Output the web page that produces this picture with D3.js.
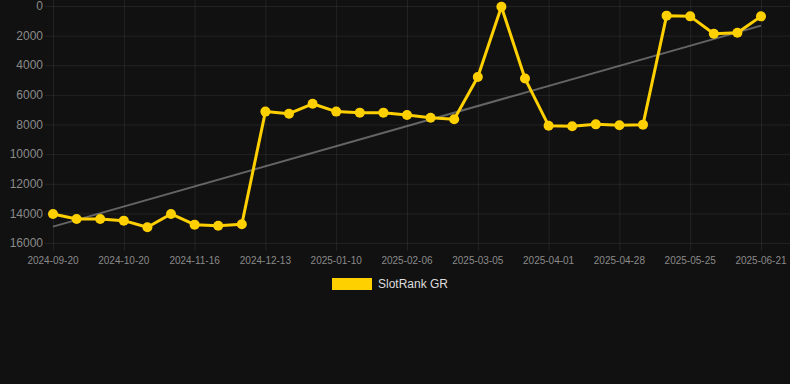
<!DOCTYPE html>
<html>
<head>
<meta charset="utf-8">
<script src="https://cdn.jsdelivr.net/npm/d3@7"></script>
<style>
  html, body { margin: 0; padding: 0; background: #111111; }
  svg { display: block; font-family: Arial, "Liberation Sans", sans-serif; }
</style>
</head>
<body>
<svg id="chart" width="790" height="384"></svg>
<script>
// rank per date (lower = better, so the y axis is flipped)
const dates = [
  "2024-09-20", "2024-09-30", "2024-10-10", "2024-10-20", "2024-10-29", "2024-11-07",
  "2024-11-16", "2024-11-25", "2024-12-04", "2024-12-13", "2024-12-22", "2025-01-01",
  "2025-01-10", "2025-01-19", "2025-01-28", "2025-02-06", "2025-02-15", "2025-02-24",
  "2025-03-05", "2025-03-14", "2025-03-23", "2025-04-01", "2025-04-10", "2025-04-19",
  "2025-04-28", "2025-05-07", "2025-05-16", "2025-05-25", "2025-06-03", "2025-06-12",
  "2025-06-21"
];
const ranks = [
  14040, 14380, 14380, 14490, 14940, 14040, 14760, 14830, 14740,
  7130, 7270, 6600, 7130, 7200, 7200, 7360, 7540, 7650,
  4790, 50, 4900,
  8080, 8120, 7990, 8050, 8010,
  650, 700, 1870, 1800, 700
];
const yTicks = [0, 2000, 4000, 6000, 8000, 10000, 12000, 14000, 16000];
const seriesName = "SlotRank GR";

const svg = d3.select("#chart");
const gold = "#ffd000";
const gridColor = "rgba(255,255,255,0.075)";

const x = d3.scalePoint().domain(dates).range([53, 761]);
const y = d3.scaleLinear().domain([0, 16000]).range([6, 243]);

// grid
const shownDates = dates.filter((d, i) => i % 3 === 0);
svg.append("g")
  .selectAll("line")
  .data(yTicks)
  .join("line")
  .attr("x1", 45).attr("x2", 790)
  .attr("y1", d => y(d) + 0.5).attr("y2", d => y(d) + 0.5)
  .attr("stroke", gridColor);
svg.append("g")
  .selectAll("line")
  .data(shownDates)
  .join("line")
  .attr("x1", d => x(d) + 0.5).attr("x2", d => x(d) + 0.5)
  .attr("y1", 0).attr("y2", 251)
  .attr("stroke", gridColor);

// axes labels
svg.append("g")
  .selectAll("text")
  .data(yTicks)
  .join("text")
  .attr("x", 43)
  .attr("y", d => y(d))
  .attr("dy", "0.35em")
  .attr("text-anchor", "end")
  .attr("fill", "#8a8a8a")
  .attr("font-size", 12)
  .text(d => d);
svg.append("g")
  .selectAll("text")
  .data(shownDates)
  .join("text")
  .attr("x", d => x(d))
  .attr("y", 260)
  .attr("dy", "0.35em")
  .attr("text-anchor", "middle")
  .attr("fill", "#8a8a8a")
  .attr("font-size", 10)
  .text(d => d);

// trend line (least squares on index)
const n = ranks.length;
const mx = d3.mean(ranks, (d, i) => i), my = d3.mean(ranks);
const slope = d3.sum(ranks, (d, i) => (i - mx) * (d - my)) / d3.sum(ranks, (d, i) => (i - mx) ** 2);
const icpt = my - slope * mx;
svg.append("line")
  .attr("x1", x(dates[0])).attr("y1", y(icpt))
  .attr("x2", x(dates[n - 1])).attr("y2", y(icpt + slope * (n - 1)))
  .attr("stroke", "rgba(170,170,170,0.55)")
  .attr("stroke-width", 2);

// series
svg.append("path")
  .datum(ranks)
  .attr("fill", "none")
  .attr("stroke", gold)
  .attr("stroke-width", 3)
  .attr("stroke-linejoin", "round")
  .attr("d", d3.line().x((d, i) => x(dates[i])).y(d => y(d)));
svg.append("g")
  .selectAll("circle")
  .data(ranks)
  .join("circle")
  .attr("cx", (d, i) => x(dates[i]))
  .attr("cy", d => y(d))
  .attr("r", 5)
  .attr("fill", gold);

// legend
const lg = svg.append("g");
lg.append("rect").attr("x", 332).attr("y", 278).attr("width", 40).attr("height", 12).attr("fill", gold);
lg.append("text")
  .attr("x", 378).attr("y", 284).attr("dy", "0.35em")
  .attr("fill", "#dddddd").attr("font-size", 12)
  .text(seriesName);
</script>
</body>
</html>
